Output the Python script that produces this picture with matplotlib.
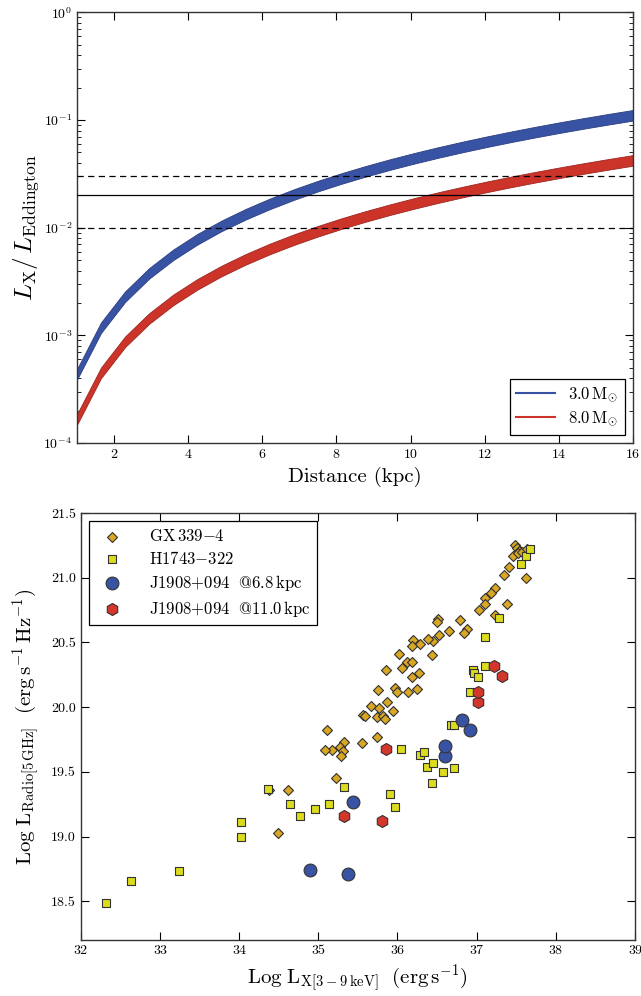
import matplotlib
matplotlib.use('Agg')
import matplotlib.pyplot as plt
from matplotlib.lines import Line2D
from matplotlib.ticker import FormatStrFormatter, MultipleLocator, LogLocator, NullFormatter

plt.rcParams.update({
    'font.family': 'serif',
    'font.serif': ['cmr10'],
    'mathtext.fontset': 'cm',
    'axes.formatter.use_mathtext': True,
    'axes.unicode_minus': False,
})

# ---------------- top panel data ----------------
distance_kpc = [1.0, 1.65, 2.3, 2.95, 3.6, 4.25, 4.9, 5.55, 6.2, 6.85, 7.5, 8.15,
                8.8, 9.45, 10.1, 10.75, 11.4, 12.05, 12.7, 13.35, 14.0, 14.65, 15.3, 16.0]
m3_upper = [4.85e-4, 1.320e-3, 2.565e-3, 4.22e-3, 6.28e-3, 8.76e-3, 1.165e-2, 1.494e-2,
            1.864e-2, 2.276e-2, 2.728e-2, 3.221e-2, 3.755e-2, 4.331e-2, 4.947e-2, 5.604e-2,
            6.302e-2, 7.041e-2, 7.822e-2, 8.643e-2, 9.505e-2, 1.0408e-1, 1.1352e-1, 1.2415e-1]
m3_lower = [3.87e-4, 1.053e-3, 2.045e-3, 3.37e-3, 5.01e-3, 6.98e-3, 9.29e-3, 1.191e-2,
            1.486e-2, 1.814e-2, 2.175e-2, 2.568e-2, 2.994e-2, 3.453e-2, 3.944e-2, 4.468e-2,
            5.024e-2, 5.613e-2, 6.236e-2, 6.890e-2, 7.578e-2, 8.297e-2, 9.050e-2, 9.897e-2]
m8_upper = [1.848e-4, 5.03e-4, 9.78e-4, 1.608e-3, 2.395e-3, 3.338e-3, 4.437e-3, 5.692e-3,
            7.104e-3, 8.671e-3, 1.0395e-2, 1.2275e-2, 1.4314e-2, 1.6498e-2, 1.885e-2, 2.136e-2,
            2.401e-2, 2.684e-2, 2.980e-2, 3.294e-2, 3.622e-2, 3.966e-2, 4.325e-2, 4.731e-2]
m8_lower = [1.473e-4, 4.01e-4, 7.79e-4, 1.282e-3, 1.909e-3, 2.661e-3, 3.538e-3, 4.538e-3,
            5.664e-3, 6.913e-3, 8.287e-3, 9.786e-3, 1.1411e-2, 1.3152e-2, 1.5028e-2, 1.7028e-2,
            1.9144e-2, 2.1394e-2, 2.3760e-2, 2.6260e-2, 2.8877e-2, 3.1618e-2, 3.4484e-2, 3.7716e-2]
ratio_solid = [0.02]
ratio_dashed = [0.01, 0.03]
mass_labels = [r'$3.0\,\mathrm{M}_{\odot}$', r'$8.0\,\mathrm{M}_{\odot}$']

# ---------------- bottom panel data ----------------
gx_lx = [37.48, 37.51, 37.54, 37.46, 37.52, 37.57, 37.63,
         37.41, 37.34, 37.62, 37.23, 37.18, 37.10, 37.10, 37.38, 37.03, 37.23,
         36.51, 36.50, 36.79, 36.65, 36.88, 36.84, 36.52, 36.45, 36.39, 36.29, 36.20, 36.18,
         36.44, 36.02, 36.12, 36.19, 36.06, 35.86, 36.27, 36.18, 35.76, 35.97, 36.00, 36.13, 36.25,
         35.87, 35.67, 35.77, 35.95, 35.56, 35.59, 35.74, 35.82, 35.84, 35.11, 35.74, 35.55,
         35.33, 35.27, 35.31, 35.29, 35.17, 35.09, 35.23, 34.38, 34.62, 34.49]
gx_lr = [21.25, 21.23, 21.21, 21.17, 21.19, 21.20, 21.22,
         21.08, 21.02, 21.00, 20.92, 20.88, 20.84, 20.80, 20.80, 20.75, 20.71,
         20.68, 20.66, 20.67, 20.59, 20.60, 20.57, 20.56, 20.51, 20.53, 20.49, 20.52, 20.47,
         20.40, 20.41, 20.35, 20.35, 20.30, 20.29, 20.26, 20.23, 20.13, 20.15, 20.12, 20.12, 20.14,
         20.04, 20.01, 19.99, 19.97, 19.94, 19.93, 19.92, 19.93, 19.91, 19.82, 19.77, 19.72,
         19.73, 19.69, 19.66, 19.62, 19.67, 19.67, 19.45, 19.36, 19.36, 19.03]
h17_lx = [32.32, 32.63, 33.24, 34.03, 34.03, 34.37, 34.64, 34.77, 34.96, 35.13, 35.33,
          35.91, 35.97, 36.04, 36.29, 36.34, 36.37, 36.45, 36.57, 36.72, 36.43, 36.68, 36.72,
          36.91, 36.95, 36.97, 37.02, 37.10, 37.11, 37.28, 37.56, 37.62, 37.68]
h17_lr = [18.49, 18.66, 18.73, 19.11, 19.00, 19.37, 19.25, 19.16, 19.21, 19.25, 19.38,
          19.33, 19.23, 19.68, 19.63, 19.65, 19.54, 19.57, 19.50, 19.53, 19.41, 19.86, 19.86,
          20.12, 20.29, 20.26, 20.23, 20.32, 20.54, 20.69, 21.11, 21.17, 21.22]
j68_lx = [34.90, 35.38, 35.44, 36.60, 36.60, 36.82, 36.91]
j68_lr = [18.74, 18.71, 19.27, 19.62, 19.70, 19.90, 19.82]
j11_lx = [35.32, 35.80, 35.86, 37.02, 37.02, 37.22, 37.32]
j11_lr = [19.16, 19.12, 19.68, 20.04, 20.12, 20.32, 20.24]
src_labels = [r'$\mathrm{GX\,339{-}4}$', r'$\mathrm{H1743{-}322}$',
              r'$\mathrm{J1908{+}094\ \ @6.8\,kpc}$', r'$\mathrm{J1908{+}094\ \ @11.0\,kpc}$']

BLUE = '#3953a4'
RED = '#cc3329'
EDGE = '#333333'

fig = plt.figure(figsize=(6.41, 9.96), dpi=100)
ax1 = fig.add_axes([0.120, 0.5552, 0.8675, 0.4323])
ax2 = fig.add_axes([0.126, 0.0562, 0.8646, 0.4287])

# ---- top panel ----
ax1.fill_between(distance_kpc, m3_lower, m3_upper, facecolor=BLUE, edgecolor='#2b3f80', lw=0.6, zorder=2)
ax1.fill_between(distance_kpc, m8_lower, m8_upper, facecolor=RED, edgecolor='#9e2620', lw=0.6, zorder=2)
for v in ratio_solid:
    ax1.axhline(v, color='black', lw=0.9, zorder=3)
for v in ratio_dashed:
    ax1.axhline(v, color='black', lw=0.9, ls=(0, (5, 3.5)), zorder=3)
ax1.set_yscale('log')
ax1.set_xlim(1, 16)
ax1.set_ylim(1e-4, 1)
ax1.xaxis.set_major_locator(MultipleLocator(2))
ax1.yaxis.set_major_locator(LogLocator(base=10, numticks=10))
ax1.yaxis.set_minor_locator(LogLocator(base=10, subs=range(2, 10), numticks=10))
ax1.yaxis.set_minor_formatter(NullFormatter())
ax1.set_xlabel('Distance (kpc)', fontsize=15, labelpad=4)
ax1.set_ylabel(r'$L_{\mathrm{X}}/\,L_{\mathrm{Eddington}}$', fontsize=18, labelpad=2)
handles1 = [Line2D([], [], color=BLUE, lw=1.5), Line2D([], [], color=RED, lw=1.5)]
leg1 = ax1.legend(handles1, mass_labels, loc='lower right', fontsize=12, frameon=True,
                  fancybox=False, edgecolor='black', framealpha=1, handlelength=2.3,
                  borderaxespad=0.5, labelspacing=0.3)
leg1.get_frame().set_linewidth(0.9)

# ---- bottom panel ----
ax2.scatter(gx_lx, gx_lr, marker='D', s=26, c='#d9a724', edgecolors=EDGE, linewidths=0.8,
            zorder=3, label=src_labels[0])
ax2.scatter(h17_lx, h17_lr, marker='s', s=30, c='#dcdc1e', edgecolors=EDGE, linewidths=0.8,
            zorder=3, label=src_labels[1])
ax2.scatter(j68_lx, j68_lr, marker='o', s=85, c=BLUE, edgecolors=EDGE, linewidths=0.8,
            zorder=4, label=src_labels[2])
ax2.scatter(j11_lx, j11_lr, marker='h', s=75, c='#d3372b', edgecolors=EDGE, linewidths=0.8,
            zorder=4, label=src_labels[3])
ax2.set_xlim(32, 39)
ax2.set_ylim(18.2, 21.5)
ax2.xaxis.set_major_locator(MultipleLocator(1))
ax2.yaxis.set_major_locator(MultipleLocator(0.5))
ax2.xaxis.set_major_formatter(FormatStrFormatter('%d'))
ax2.yaxis.set_major_formatter(FormatStrFormatter('%.1f'))
ax2.set_xlabel(r'$\mathrm{Log\ L_{X[3-9\,keV]}\ \ (erg\,s^{-1})}$', fontsize=15, labelpad=4)
ax2.set_ylabel(r'$\mathrm{Log\ L_{Radio[5\,GHz]}\ \ (erg\,s^{-1}\,Hz^{-1})}$', fontsize=15, labelpad=6)
leg2 = ax2.legend(loc='upper left', fontsize=12, frameon=True, fancybox=False,
                  edgecolor='black', framealpha=1, scatterpoints=1, borderaxespad=0.5,
                  handletextpad=1.2, labelspacing=0.35)
leg2.get_frame().set_linewidth(0.9)

for ax in (ax1, ax2):
    ax.tick_params(which='both', direction='in', top=True, right=True, labelsize=10)
    ax.tick_params(which='major', length=6, width=0.8)
    ax.tick_params(which='minor', length=3, width=0.6)
    for sp in ax.spines.values():
        sp.set_linewidth(1.0)
        sp.set_color('#333333')

fig.savefig('out.png', dpi=100)
